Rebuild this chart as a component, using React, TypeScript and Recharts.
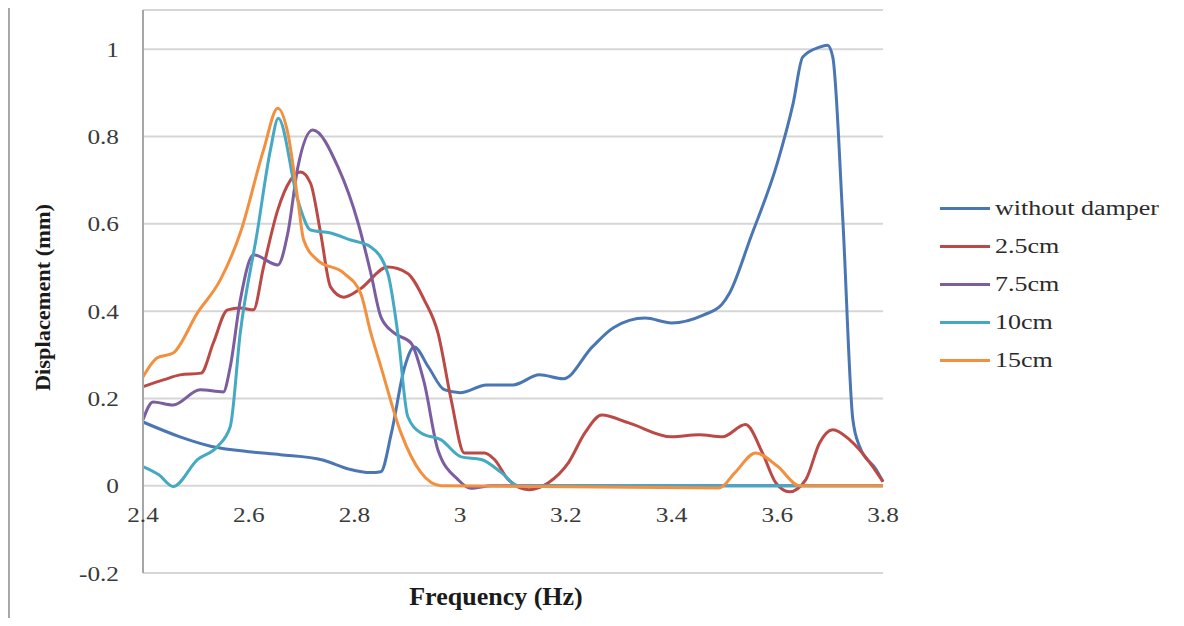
import React from "react";
import { CartesianGrid, Label, Line, LineChart, XAxis, YAxis } from "recharts";

// frequency (Hz) / displacement (mm) pairs
const noDamperHz = [2.4, 2.47, 2.53, 2.6, 2.66, 2.74, 2.79, 2.83, 2.85, 2.87, 2.895, 2.913, 2.94, 2.97, 3.0, 3.05, 3.1, 3.15, 3.195, 3.25, 3.29, 3.35, 3.4, 3.46, 3.495, 3.51, 3.55, 3.6, 3.63, 3.648, 3.68, 3.695, 3.705, 3.724, 3.743, 3.756, 3.787, 3.8];
const noDamperMm = [0.146, 0.112, 0.09, 0.078, 0.071, 0.059, 0.038, 0.03, 0.032, 0.121, 0.272, 0.318, 0.272, 0.22, 0.213, 0.231, 0.231, 0.254, 0.245, 0.318, 0.362, 0.384, 0.373, 0.391, 0.415, 0.442, 0.57, 0.739, 0.876, 0.982, 1.005, 1.009, 0.982, 0.609, 0.151, 0.089, 0.037, 0.009];

const d25Hz = [2.4, 2.44, 2.47, 2.51, 2.533, 2.56, 2.584, 2.609, 2.628, 2.655, 2.679, 2.698, 2.717, 2.736, 2.755, 2.78, 2.81, 2.863, 2.9, 2.932, 2.958, 2.983, 3.008, 3.046, 3.065, 3.091, 3.13, 3.167, 3.205, 3.236, 3.268, 3.319, 3.4, 3.452, 3.496, 3.54, 3.572, 3.597, 3.623, 3.654, 3.68, 3.705, 3.737, 3.775, 3.8];
const d25Mm = [0.227, 0.243, 0.254, 0.258, 0.327, 0.403, 0.407, 0.403, 0.501, 0.632, 0.7, 0.719, 0.693, 0.579, 0.455, 0.432, 0.45, 0.501, 0.487, 0.426, 0.35, 0.197, 0.075, 0.075, 0.06, 0.014, -0.009, 0.007, 0.053, 0.121, 0.162, 0.144, 0.112, 0.117, 0.112, 0.14, 0.075, 0.007, -0.014, 0.014, 0.098, 0.128, 0.105, 0.053, 0.009];

const d75Hz = [2.4, 2.419, 2.457, 2.508, 2.552, 2.565, 2.584, 2.609, 2.655, 2.674, 2.693, 2.721, 2.769, 2.807, 2.831, 2.85, 2.875, 2.907, 2.932, 2.958, 2.996, 3.02, 3.06, 3.8];
const d75Mm = [0.151, 0.192, 0.185, 0.22, 0.215, 0.272, 0.425, 0.529, 0.506, 0.579, 0.73, 0.815, 0.73, 0.602, 0.487, 0.387, 0.35, 0.327, 0.236, 0.082, 0.014, -0.006, 0, 0];

const d10Hz = [2.4, 2.43, 2.457, 2.503, 2.541, 2.565, 2.584, 2.616, 2.641, 2.656, 2.693, 2.717, 2.755, 2.793, 2.831, 2.863, 2.882, 2.901, 2.926, 2.964, 3.002, 3.04, 3.078, 3.11, 3.8];
const d10Mm = [0.044, 0.025, -0.002, 0.06, 0.09, 0.135, 0.35, 0.58, 0.769, 0.842, 0.654, 0.586, 0.579, 0.563, 0.547, 0.487, 0.35, 0.158, 0.121, 0.105, 0.066, 0.06, 0.03, 0, 0];

const d15Hz = [2.4, 2.427, 2.457, 2.503, 2.546, 2.584, 2.628, 2.655, 2.674, 2.693, 2.704, 2.73, 2.78, 2.812, 2.831, 2.85, 2.888, 2.926, 2.964, 3.49, 3.52, 3.559, 3.6, 3.642, 3.8];
const d15Mm = [0.249, 0.293, 0.304, 0.396, 0.471, 0.579, 0.769, 0.865, 0.808, 0.654, 0.563, 0.517, 0.487, 0.44, 0.35, 0.273, 0.121, 0.03, 0, -0.005, 0.03, 0.075, 0.045, 0, 0];

const seriesNames = ["without damper", "2.5cm", "7.5cm", "10cm", "15cm"];
const seriesColors = ["#4a76b4", "#bb4a46", "#7c5d9f", "#45a9c3", "#f3903f"];
const xTicks = [2.4, 2.6, 2.8, 3, 3.2, 3.4, 3.6, 3.8];
const yTicks = [-0.2, 0, 0.2, 0.4, 0.6, 0.8, 1];

const toPoints = (hz: number[], mm: number[]) => hz.map((h, i) => ({ hz: h, mm: mm[i] }));
const seriesData = [
  toPoints(noDamperHz, noDamperMm),
  toPoints(d25Hz, d25Mm),
  toPoints(d75Hz, d75Mm),
  toPoints(d10Hz, d10Mm),
  toPoints(d15Hz, d15Mm),
];

const W = 1168;
const H = 610;
const Y_MIN = -0.2;
const Y_MAX = 1.09;
const MARGIN = { top: 2, right: 293, bottom: 0, left: 0 };
const X_AXIS_H = 45;
const Y_AXIS_W = 135;
const PLOT_H = H - MARGIN.top - MARGIN.bottom - X_AXIS_H;
const ZERO_Y = MARGIN.top + (PLOT_H * Y_MAX) / (Y_MAX - Y_MIN);
const SERIF = "'Liberation Serif', 'Times New Roman', serif";

const fmt = (v: number) => String(Math.round(v * 10) / 10);

function YTick({ x, y, payload }: any) {
  return (
    <text
      transform={`translate(${x},${y + 7.5}) scale(1.15,1)`}
      textAnchor="end"
      fontFamily={SERIF}
      fontSize={22}
      fill="#3a3a3a"
    >
      {fmt(payload.value)}
    </text>
  );
}

function XTick({ x, payload }: any) {
  return (
    <text
      transform={`translate(${x},${ZERO_Y + 36}) scale(1.15,1)`}
      textAnchor="middle"
      fontFamily={SERIF}
      fontSize={22}
      fill="#3a3a3a"
    >
      {fmt(payload.value)}
    </text>
  );
}

function LegendBox() {
  return (
    <div style={{ position: "absolute", left: 932, top: 181, width: 236, fontFamily: SERIF }}>
      {seriesNames.map((name, i) => (
        <div key={name} style={{ display: "flex", alignItems: "center", height: 38 }}>
          <div style={{ width: 50, height: 3, background: seriesColors[i], marginRight: 5 }} />
          <span
            style={{
              display: "inline-block",
              fontSize: 20,
              color: "#2b2b2b",
              transform: "scaleX(1.3)",
              transformOrigin: "left center",
              whiteSpace: "nowrap",
            }}
          >
            {name}
          </span>
        </div>
      ))}
    </div>
  );
}

export default function App() {
  return (
    <div style={{ position: "relative", width: W, height: H }}>
      <div style={{ position: "absolute", left: -1, top: -1, width: 3, height: 620, background: "#a8a8a8" }} />
      <LineChart width={W} height={H} margin={MARGIN}>
        <CartesianGrid vertical={false} stroke="#d6d6d6" strokeWidth={2} />
        <XAxis
          type="number"
          dataKey="hz"
          domain={[2.4, 3.8]}
          ticks={xTicks}
          height={X_AXIS_H}
          axisLine={false}
          tickLine={false}
          tick={<XTick />}
          allowDuplicatedCategory={false}
        >
          <Label
            content={({ viewBox }: any) => (
              <text
                x={viewBox.x + viewBox.width / 2 - 17}
                y={viewBox.y + 32}
                textAnchor="middle"
                fontFamily={SERIF}
                fontWeight="bold"
                fontSize={26}
                fill="#1a1a1a"
              >
                Frequency (Hz)
              </text>
            )}
          />
        </XAxis>
        <YAxis
          type="number"
          domain={[Y_MIN, Y_MAX]}
          ticks={yTicks}
          width={Y_AXIS_W}
          axisLine={{ stroke: "#a6a6a6", strokeWidth: 2 }}
          tickLine={false}
          tickSize={0}
          tickMargin={24}
          tick={<YTick />}
          allowDataOverflow
        >
          <Label
            content={({ viewBox }: any) => (
              <text
                transform={`translate(42,${viewBox.y + viewBox.height / 2 + 6}) rotate(-90) scale(1.12,1)`}
                textAnchor="middle"
                fontFamily={SERIF}
                fontWeight="bold"
                fontSize={20}
                fill="#1a1a1a"
              >
                Displacement (mm)
              </text>
            )}
          />
        </YAxis>
        {seriesNames.map((name, i) => (
          <Line
            key={name}
            name={name}
            data={seriesData[i]}
            dataKey="mm"
            type="monotone"
            stroke={seriesColors[i]}
            strokeWidth={3}
            dot={false}
            activeDot={false}
            isAnimationActive={false}
          />
        ))}
      </LineChart>
      <LegendBox />
    </div>
  );
}
